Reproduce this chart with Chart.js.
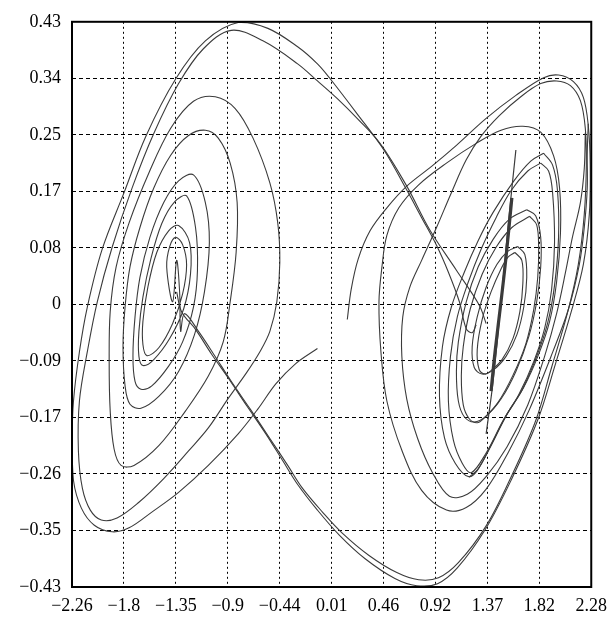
<!DOCTYPE html>
<html>
<head>
<meta charset="utf-8">
<script src="https://cdn.jsdelivr.net/npm/chart.js@4.4.1/dist/chart.umd.min.js"></script>
<style>
  html, body { margin: 0; padding: 0; background: #fff; }
  #wrap { width: 615px; height: 621px; }
</style>
</head>
<body>
<div id="wrap"><canvas id="chart" width="615" height="621"></canvas></div>
<script>
// ====== axis ======
const X_MIN = -2.26, X_MAX = 2.28;
const Y_MIN = -0.43, Y_MAX = 0.43;
const X_TICK_LABELS = ['−2.26', '−1.8', '−1.35', '−0.9', '−0.44', '0.01', '0.46', '0.92', '1.37', '1.82', '2.28'];
const Y_TICK_LABELS = ['−0.43', '−0.35', '−0.26', '−0.17', '−0.09', '0', '0.08', '0.17', '0.25', '0.34', '0.43'];

// ====== trajectory pieces (x, y) ======
// top arc from the right scroll, down the far left side, back up towards the start point
const arcOuter = [
  [1.274, -0.031], [1.239, -0.043], [1.187, -0.037], [1.127, 0.004], [1.031, 0.049], [0.927, 0.090],
  [0.797, 0.132], [0.667, 0.174], [0.467, 0.235], [0.233, 0.290], [-0.001, 0.343], [-0.114, 0.366],
  [-0.287, 0.392], [-0.547, 0.420], [-0.807, 0.429], [-1.094, 0.401], [-1.354, 0.343], [-1.614, 0.256],
  [-1.805, 0.170], [-1.996, 0.084], [-2.126, -0.004], [-2.195, -0.072], [-2.247, -0.147], [-2.258, -0.207],
  [-2.247, -0.268], [-2.178, -0.310], [-2.065, -0.336], [-1.909, -0.346], [-1.761, -0.340], [-1.562, -0.316],
  [-1.328, -0.286], [-1.068, -0.245], [-0.807, -0.197], [-0.634, -0.159], [-0.478, -0.121], [-0.304, -0.090],
  [-0.114, -0.067]
];

// second top arc, then the left scroll winding in to its centre and out through the valley
const arcInnerSpiral = [
  [1.361, -0.029], [1.300, -0.001], [1.101, 0.052], [0.866, 0.114], [0.667, 0.180], [0.433, 0.245],
  [0.233, 0.283], [0.060, 0.313], [-0.114, 0.340], [-0.287, 0.366], [-0.591, 0.401], [-0.868, 0.417],
  [-1.111, 0.389], [-1.328, 0.336], [-1.545, 0.260], [-1.735, 0.177], [-1.909, 0.087], [-2.039, 0.004],
  [-2.126, -0.072], [-2.195, -0.147], [-2.204, -0.223], [-2.169, -0.280], [-2.100, -0.313], [-2.004, -0.328],
  [-1.866, -0.325], [-1.675, -0.301], [-1.458, -0.265], [-1.241, -0.223], [-1.068, -0.188], [-0.894, -0.143],
  [-0.738, -0.105], [-0.617, -0.072], [-0.530, -0.041], [-0.469, 0.004], [-0.443, 0.064], [-0.461, 0.124],
  [-0.530, 0.185], [-0.677, 0.253], [-0.833, 0.298], [-1.007, 0.316], [-1.198, 0.309], [-1.397, 0.268],
  [-1.588, 0.200], [-1.761, 0.124], [-1.874, 0.057], [-1.926, -0.011], [-1.935, -0.087], [-1.926, -0.162],
  [-1.892, -0.220], [-1.831, -0.245], [-1.718, -0.245], [-1.501, -0.215], [-1.267, -0.162], [-1.068, -0.109],
  [-0.938, -0.057], [-0.877, 0.004], [-0.825, 0.079], [-0.816, 0.155], [-0.877, 0.215], [-0.981, 0.253],
  [-1.094, 0.265], [-1.241, 0.257], [-1.397, 0.227], [-1.545, 0.177], [-1.666, 0.117], [-1.753, 0.057],
  [-1.796, -0.004], [-1.814, -0.064], [-1.796, -0.124], [-1.753, -0.152], [-1.657, -0.158], [-1.501, -0.140],
  [-1.328, -0.102], [-1.189, -0.046], [-1.102, 0.019], [-1.059, 0.094], [-1.094, 0.155], [-1.198, 0.197],
  [-1.328, 0.188], [-1.458, 0.155], [-1.579, 0.102], [-1.666, 0.041], [-1.709, -0.019], [-1.727, -0.079],
  [-1.709, -0.117], [-1.657, -0.129], [-1.562, -0.124], [-1.415, -0.094], [-1.293, -0.057], [-1.198, -0.004],
  [-1.163, 0.052], [-1.180, 0.117], [-1.258, 0.165], [-1.363, 0.156], [-1.475, 0.123], [-1.571, 0.069],
  [-1.640, 0.011], [-1.675, -0.041], [-1.675, -0.079], [-1.640, -0.093], [-1.545, -0.084], [-1.406, -0.052],
  [-1.284, -0.007], [-1.224, 0.046], [-1.232, 0.094], [-1.328, 0.120], [-1.415, 0.112], [-1.519, 0.079],
  [-1.597, 0.026], [-1.640, -0.026], [-1.640, -0.061], [-1.605, -0.078], [-1.501, -0.066], [-1.380, -0.029],
  [-1.293, 0.016], [-1.258, 0.060], [-1.293, 0.091], [-1.354, 0.102], [-1.406, 0.088], [-1.432, 0.057],
  [-1.380, 0.004], [-1.345, 0.067], [-1.319, 0.019], [-1.310, -0.041], [-1.276, -0.014], [-1.154, -0.041],
  [-1.024, -0.075], [-0.868, -0.117], [-0.703, -0.159], [-0.530, -0.204], [-0.374, -0.245], [-0.244, -0.280],
  [-0.070, -0.316], [0.103, -0.348], [0.337, -0.382], [0.580, -0.408], [0.771, -0.419], [0.944, -0.416],
  [1.118, -0.393], [1.361, -0.337], [1.578, -0.263], [1.794, -0.177], [1.933, -0.096], [2.072, -0.013],
  [2.167, 0.061], [2.219, 0.137], [2.237, 0.212], [2.228, 0.268], [2.185, 0.310], [2.098, 0.333],
  [1.977, 0.340], [1.838, 0.336], [1.664, 0.316], [1.474, 0.287], [1.317, 0.256], [1.187, 0.220],
  [1.057, 0.170], [0.927, 0.117], [0.797, 0.067], [0.693, 0.026], [0.632, -0.019], [0.624, -0.079],
  [0.667, -0.144], [0.762, -0.204], [0.892, -0.256], [1.040, -0.292], [1.196, -0.289], [1.361, -0.262],
  [1.543, -0.217], [1.725, -0.153], [1.872, -0.079], [1.977, -0.014], [2.055, 0.049], [2.115, 0.102],
  [2.185, 0.155], [2.219, 0.207], [2.228, 0.261]
];

// other valley line, up the right edge, over the right peak and down to the start point
const valleyOuter = [
  [-1.345, 0.019], [-1.302, -0.011], [-1.180, -0.038], [-1.042, -0.075], [-0.894, -0.112], [-0.729, -0.155],
  [-0.565, -0.197], [-0.417, -0.238], [-0.287, -0.274], [-0.114, -0.313], [0.077, -0.351], [0.303, -0.387],
  [0.563, -0.417], [0.754, -0.428], [0.936, -0.425], [1.109, -0.401], [1.352, -0.343], [1.578, -0.268],
  [1.812, -0.176], [1.968, -0.090], [2.107, -0.010], [2.211, 0.061], [2.263, 0.137], [2.271, 0.212],
  [2.254, 0.272], [2.211, 0.315], [2.124, 0.339], [1.994, 0.349], [1.864, 0.345], [1.621, 0.318],
  [1.361, 0.283], [1.101, 0.242], [0.884, 0.210], [0.667, 0.180], [0.493, 0.147], [0.346, 0.112],
  [0.242, 0.069], [0.181, 0.023], [0.147, -0.023]
];

// right scroll, widest inner loop
const rightOuterLoop = [
  [1.213, -0.263], [1.291, -0.250], [1.404, -0.215], [1.543, -0.167], [1.690, -0.126], [1.820, -0.076],
  [1.916, -0.026], [1.977, 0.034], [2.011, 0.109], [2.003, 0.177], [1.951, 0.226], [1.838, 0.262],
  [1.682, 0.271], [1.491, 0.265], [1.274, 0.245], [1.014, 0.215], [0.771, 0.182], [0.598, 0.147],
  [0.493, 0.105], [0.450, 0.057], [0.424, 0.004], [0.441, -0.072], [0.493, -0.147], [0.624, -0.222],
  [0.797, -0.283], [1.014, -0.313], [1.187, -0.309], [1.361, -0.281], [1.552, -0.226], [1.734, -0.162],
  [1.942, -0.073], [2.081, -0.007], [2.176, 0.061], [2.219, 0.117], [2.245, 0.177], [2.245, 0.230],
  [2.254, 0.275]
];

const loopR3a = [
  [1.864, 0.230], [1.751, 0.218], [1.604, 0.188], [1.422, 0.140], [1.291, 0.097], [1.170, 0.049],
  [1.057, -0.004], [0.979, -0.064], [0.953, -0.140], [0.997, -0.203], [1.092, -0.242], [1.205, -0.262],
  [1.283, -0.253], [1.395, -0.217], [1.534, -0.170], [1.673, -0.131], [1.803, -0.079], [1.898, -0.029],
  [1.959, 0.029], [1.994, 0.102], [1.985, 0.173], [1.942, 0.212], [1.864, 0.230]
];
const loopR3b = [
  [1.838, 0.215], [1.725, 0.203], [1.578, 0.173], [1.448, 0.132], [1.317, 0.084], [1.205, 0.034],
  [1.109, -0.019], [1.049, -0.079], [1.031, -0.147], [1.075, -0.207], [1.153, -0.242], [1.231, -0.256],
  [1.361, -0.226], [1.508, -0.177], [1.647, -0.137], [1.777, -0.087], [1.872, -0.037], [1.933, 0.022],
  [1.959, 0.094], [1.942, 0.170], [1.907, 0.203], [1.838, 0.215]
];
const loopR2a = [
  [1.716, 0.144], [1.794, 0.135], [1.838, 0.102], [1.838, 0.057], [1.803, 0.004], [1.734, -0.049],
  [1.621, -0.102], [1.491, -0.144], [1.361, -0.170], [1.257, -0.179], [1.170, -0.171], [1.118, -0.147],
  [1.101, -0.102], [1.118, -0.057], [1.187, 0.004], [1.291, 0.057], [1.422, 0.099], [1.560, 0.129],
  [1.716, 0.144]
];
const loopR2b = [
  [1.742, 0.134], [1.803, 0.121], [1.820, 0.087], [1.812, 0.041], [1.777, -0.008], [1.708, -0.060],
  [1.595, -0.108], [1.465, -0.149], [1.343, -0.173], [1.283, -0.180], [1.213, -0.174], [1.161, -0.153],
  [1.144, -0.109], [1.161, -0.064], [1.222, -0.007], [1.326, 0.046], [1.448, 0.087], [1.586, 0.117],
  [1.742, 0.134]
];
const loopR1a = [
  [1.638, 0.088], [1.699, 0.076], [1.716, 0.041], [1.690, -0.004], [1.630, -0.046], [1.535, -0.079],
  [1.422, -0.100], [1.326, -0.106], [1.257, -0.096], [1.239, -0.064], [1.283, -0.019], [1.361, 0.026],
  [1.456, 0.061], [1.552, 0.081], [1.638, 0.088]
];
const loopR1b = [
  [1.612, 0.079], [1.673, 0.067], [1.682, 0.032], [1.656, -0.011], [1.595, -0.052], [1.500, -0.084],
  [1.395, -0.102], [1.352, -0.106], [1.300, -0.099], [1.283, -0.069], [1.326, -0.023], [1.404, 0.019],
  [1.491, 0.054], [1.552, 0.072], [1.612, 0.079]
];

// dense needle through the right centre
const needleThin = [[1.621, 0.235], [1.560, 0.132], [1.491, 0.004], [1.422, -0.117], [1.361, -0.197]];
const needleCore = [[1.586, 0.162], [1.535, 0.072], [1.491, 0.004], [1.439, -0.072], [1.404, -0.132]];

const LINE_COLOR = '#3b3b3b';
const FONT = '"Liberation Serif", "DejaVu Serif", serif';

function toPoints(arr) {
  return arr.map(p => ({ x: p[0], y: p[1] }));
}

function curve(arr, width) {
  return {
    data: toPoints(arr),
    borderColor: LINE_COLOR,
    borderWidth: width || 1.1,
    pointRadius: 0,
    showLine: true,
    tension: 0.35,
    fill: false
  };
}

// frame on all four sides
const framePlugin = {
  id: 'frame',
  afterDraw(chart) {
    const { ctx, chartArea: { left, top, right, bottom } } = chart;
    ctx.save();
    ctx.strokeStyle = '#000';
    ctx.lineWidth = 2;
    ctx.strokeRect(left, top, right - left, bottom - top);
    ctx.restore();
  }
};

new Chart(document.getElementById('chart'), {
  type: 'scatter',
  data: {
    datasets: [
      curve(arcOuter),
      curve(arcInnerSpiral),
      curve(valleyOuter),
      curve(rightOuterLoop),
      curve(loopR3a),
      curve(loopR3b),
      curve(loopR2a),
      curve(loopR2b),
      curve(loopR1a),
      curve(loopR1b),
      curve(needleThin, 1.2),
      curve(needleCore, 3.2)
    ]
  },
  options: {
    responsive: false,
    animation: false,
    layout: { padding: { top: 17, right: 19, left: 0, bottom: 0 } },
    plugins: { legend: { display: false }, tooltip: { enabled: false } },
    scales: {
      x: {
        type: 'linear',
        min: X_MIN,
        max: X_MAX,
        afterBuildTicks: s => {
          s.ticks = X_TICK_LABELS.map((_, i) => ({ value: X_MIN + i * (X_MAX - X_MIN) / 10 }));
        },
        afterFit: s => { s.height = 34; },
        ticks: {
          callback: (v, i) => X_TICK_LABELS[i],
          color: '#000',
          font: { family: FONT, size: 18 },
          padding: 8,
          maxRotation: 0,
          autoSkip: false
        },
        grid: { color: '#000', lineWidth: 1, drawTicks: false },
        border: { display: false, dash: [2, 3] }
      },
      y: {
        type: 'linear',
        min: Y_MIN,
        max: Y_MAX,
        afterBuildTicks: s => {
          s.ticks = Y_TICK_LABELS.map((_, i) => ({ value: Y_MIN + i * (Y_MAX - Y_MIN) / 10 }));
        },
        afterFit: s => { s.width = 72; },
        ticks: {
          callback: (v, i) => Y_TICK_LABELS[i],
          color: '#000',
          font: { family: FONT, size: 18 },
          padding: 11,
          autoSkip: false
        },
        grid: { color: '#000', lineWidth: 1, drawTicks: false },
        border: { display: false, dash: [4, 3] }
      }
    }
  },
  plugins: [framePlugin]
});
</script>
</body>
</html>
